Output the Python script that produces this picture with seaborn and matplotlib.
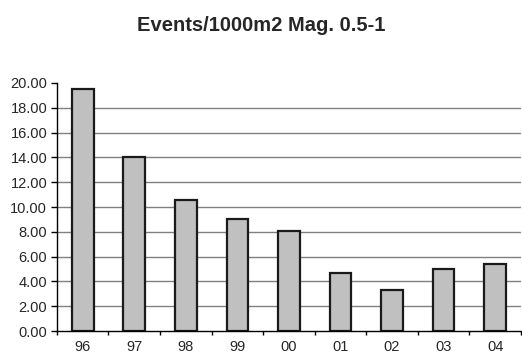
import numpy as np
import pandas as pd
import seaborn as sns
from matplotlib import pyplot as plt
from matplotlib.ticker import FixedLocator, NullFormatter

years = ["96", "97", "98", "99", "00", "01", "02", "03", "04"]
events = [19.5, 14.0, 10.6, 9.03, 8.1, 4.72, 3.32, 4.99, 5.37]
y_ticks = [0, 2, 4, 6, 8, 10, 12, 14, 16, 18, 20]

sns.set_style("white")
plt.rcParams["font.family"] = ["Liberation Sans", "DejaVu Sans"]

df = pd.DataFrame({"year": years, "events": events})

fig = plt.figure(figsize=(5.22, 3.56), dpi=100)
ax = fig.add_axes([0.109, 0.070, 0.889, 0.697])

sns.barplot(data=df, x="year", y="events", ax=ax, color="#c0c0c0",
            edgecolor="#1a1a1a", linewidth=1.6, width=0.42, saturation=1)

for v in y_ticks[1:-1]:
    ax.axhline(v, color="#808080", linewidth=1, zorder=0)

ax.set_ylim(0, 20)
ax.set_xlim(-0.5, len(years) - 0.5)
ax.set_yticks(y_ticks)
ax.set_yticklabels([f"{v:.2f}" for v in y_ticks], fontsize=10.5)
ax.tick_params(axis="y", direction="out", length=4, width=1, color="black", left=True, pad=3)
ax.tick_params(axis="x", which="major", length=0, labelsize=10.5, pad=6.5)
ax.xaxis.set_minor_locator(FixedLocator(np.arange(-0.5, len(years), 1.0)))
ax.xaxis.set_minor_formatter(NullFormatter())
ax.tick_params(axis="x", which="minor", direction="out", length=3, width=1, color="black", bottom=True)

for side in ["top", "right"]:
    ax.spines[side].set_visible(False)
for side in ["left", "bottom"]:
    ax.spines[side].set_color("black")
    ax.spines[side].set_linewidth(1)

ax.set_xlabel("")
ax.set_ylabel("")
fig.suptitle("Events/1000m2 Mag. 0.5-1", fontsize=14.5, fontweight="bold", y=0.955)

fig.savefig("out.png", dpi=100)
